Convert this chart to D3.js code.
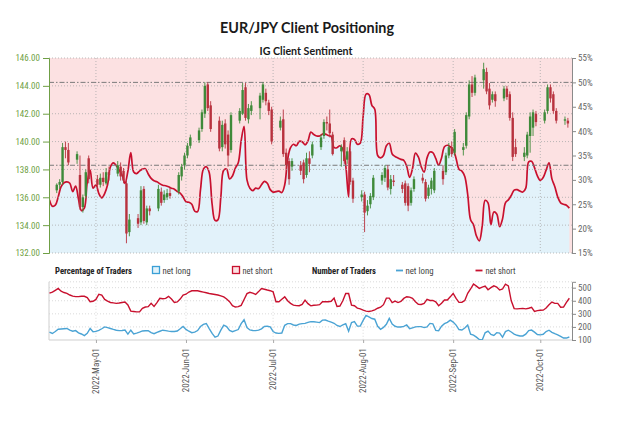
<!DOCTYPE html>
<html><head><meta charset="utf-8">
<script src="https://cdn.jsdelivr.net/npm/d3@7"></script>
<style>
body{margin:0;background:#fff}
svg{display:block}
</style>
</head><body>
<svg id="c" width="636" height="422"></svg>
<script>
// ---------- DATA ----------
const tradeDates = [
"2022-04-18","2022-04-19","2022-04-20","2022-04-21","2022-04-22","2022-04-25","2022-04-26","2022-04-27","2022-04-28","2022-04-29",
"2022-05-02","2022-05-03","2022-05-04","2022-05-05","2022-05-06","2022-05-09","2022-05-10","2022-05-11","2022-05-12","2022-05-13",
"2022-05-16","2022-05-17","2022-05-18","2022-05-19","2022-05-20","2022-05-23","2022-05-24","2022-05-25","2022-05-26","2022-05-27",
"2022-05-30","2022-05-31","2022-06-01","2022-06-02","2022-06-03","2022-06-06","2022-06-07","2022-06-08","2022-06-09","2022-06-10",
"2022-06-13","2022-06-14","2022-06-15","2022-06-16","2022-06-17","2022-06-20","2022-06-21","2022-06-22","2022-06-23","2022-06-24",
"2022-06-27","2022-06-28","2022-06-29","2022-06-30","2022-07-01","2022-07-04","2022-07-05","2022-07-06","2022-07-07","2022-07-08",
"2022-07-11","2022-07-12","2022-07-13","2022-07-14","2022-07-15","2022-07-18","2022-07-19","2022-07-20","2022-07-21","2022-07-22",
"2022-07-25","2022-07-26","2022-07-27","2022-07-28","2022-07-29","2022-08-01","2022-08-02","2022-08-03","2022-08-04","2022-08-05",
"2022-08-08","2022-08-09","2022-08-10","2022-08-11","2022-08-12","2022-08-15","2022-08-16","2022-08-17","2022-08-18","2022-08-19",
"2022-08-22","2022-08-23","2022-08-24","2022-08-25","2022-08-26","2022-08-29","2022-08-30","2022-08-31","2022-09-01","2022-09-02",
"2022-09-05","2022-09-06","2022-09-07","2022-09-08","2022-09-09","2022-09-12","2022-09-13","2022-09-14","2022-09-15","2022-09-16",
"2022-09-19","2022-09-20","2022-09-21","2022-09-22","2022-09-23","2022-09-26","2022-09-27","2022-09-28","2022-09-29","2022-09-30",
"2022-10-03","2022-10-04","2022-10-05","2022-10-06","2022-10-07","2022-10-10","2022-10-11"];

const open = [136.5,136.9,137.1,139.6,139.4,138.7,137.6,135.3,136.1,138.8,
137.3,136.9,137.4,137.0,137.8,137.7,138.2,137.9,137.0,133.5,
134.5,134.2,136.6,134.2,135.2,135.2,136.4,135.8,136.0,136.3,
136.4,137.5,138.3,139.0,139.7,140.1,140.9,142.0,144.1,142.6,
141.5,139.6,141.3,140.5,139.4,141.5,142.0,143.9,141.6,142.2,
142.4,143.0,143.5,142.8,142.3,141.0,141.6,139.2,138.6,138.2,
138.3,138.5,137.6,138.8,139.0,139.6,140.4,141.4,141.3,140.5,
139.3,140.1,138.7,139.3,137.2,136.0,136.2,135.0,135.5,136.0,
137.2,137.4,138.0,136.6,137.2,136.9,137.0,136.8,135.6,136.6,
137.4,137.1,136.1,136.6,136.5,137.9,137.8,139.0,139.6,139.2,
139.4,139.7,141.8,144.1,143.5,144.4,145.0,143.8,143.0,143.4,
143.1,143.8,143.4,141.7,139.6,138.9,139.0,140.4,141.0,142.0,
141.5,142.2,143.9,143.4,142.2,141.5,141.5];
const high = [137.0,137.3,139.9,140.0,139.9,139.3,139.0,136.2,138.0,139.0,
137.6,137.7,137.8,138.1,138.2,138.6,138.5,138.1,137.2,134.8,
134.8,136.8,136.8,135.4,135.4,136.9,136.7,136.5,136.6,136.7,
137.8,138.4,139.2,139.9,140.5,141.0,142.3,144.25,144.25,142.9,
141.8,141.5,141.6,140.8,142.1,142.4,144.2,144.2,142.7,142.9,
143.5,144.25,143.8,143.0,142.5,141.8,142.3,139.5,138.8,138.8,
138.6,138.7,139.2,139.3,140.0,140.5,141.6,141.8,142.3,140.7,
139.8,140.3,139.6,139.5,137.4,136.5,136.4,135.8,136.3,137.6,
137.8,138.3,138.3,137.6,137.6,137.1,137.2,137.0,136.7,137.5,
137.7,137.3,136.9,137.4,138.1,138.3,139.2,139.9,140.0,140.9,
139.9,142.1,144.4,144.7,144.8,145.66,145.3,144.2,143.6,143.6,
144.0,144.0,143.6,142.1,140.2,139.6,140.7,142.1,142.3,142.2,
142.3,144.1,144.1,143.6,142.4,141.8,141.7];
const low = [136.3,136.6,136.9,138.8,138.3,138.4,135.1,134.9,135.9,137.0,
136.6,136.7,136.8,136.9,137.2,137.5,137.2,137.0,132.7,133.2,
133.8,134.0,134.1,134.0,134.7,135.0,135.4,135.6,135.8,135.9,
136.2,137.2,138.0,138.8,139.5,139.9,140.7,141.7,142.2,140.7,
139.3,139.3,139.5,138.2,139.2,141.3,141.9,141.5,141.3,141.9,
141.6,142.8,142.6,141.9,139.8,140.8,138.9,138.0,136.9,137.9,
137.6,137.0,137.4,137.8,138.8,139.4,140.2,140.8,140.3,139.0,
138.2,138.4,138.4,136.9,135.6,135.7,133.5,134.7,135.2,135.8,
136.9,137.1,136.5,136.2,136.8,136.3,135.4,135.0,135.4,136.4,
137.0,135.7,135.9,136.2,136.3,136.9,137.6,138.8,138.9,139.0,
139.0,139.5,141.6,143.2,143.3,143.8,143.4,142.3,142.8,142.5,
142.9,143.0,141.5,138.6,138.9,138.6,138.8,139.2,140.4,141.1,
141.3,142.0,142.8,142.0,141.3,141.2,141.0];
const close = [136.9,137.1,139.6,139.4,138.5,139.1,135.3,136.0,137.8,137.3,
136.9,137.4,137.1,137.8,137.6,138.3,137.5,137.2,133.4,134.4,
134.1,136.5,134.3,135.2,135.0,136.6,135.6,136.2,136.3,136.1,
137.6,138.2,139.0,139.7,140.3,140.8,142.1,144.0,142.4,140.9,
139.5,141.2,139.8,139.0,141.9,142.2,143.7,141.7,142.4,142.6,
143.3,144.1,142.9,142.2,140.0,141.5,139.1,138.3,137.3,138.6,
137.9,137.3,138.8,138.4,139.8,140.3,141.4,141.3,140.6,139.1,
139.6,138.6,139.3,137.1,135.9,136.2,134.9,135.4,136.1,137.4,
137.6,138.1,136.7,137.3,137.1,136.6,135.6,135.4,136.5,137.3,
137.2,135.9,136.7,137.2,137.9,137.3,139.0,139.6,139.1,140.7,
139.6,141.9,144.1,143.5,144.6,145.2,143.6,142.6,143.4,142.9,
143.8,143.2,141.7,138.9,139.1,139.2,140.5,141.8,142.1,141.4,
142.1,143.9,143.1,142.2,141.5,141.6,141.3];

// sentiment series: one value per calendar day, 2022-04-15 .. 2022-10-11
const sentStart = "2022-04-15", sentEnd = "2022-10-11";
const pctLong = [25.9,24.6,24.8,26.5,28.6,29.4,29.6,29.3,27.6,28.7,26.0,23.7,24.2,29.5,32.0,28.3,
29.0,27.2,26.3,27.2,29.0,32.7,33.5,32.9,32.0,31.0,29.3,31.8,35.6,31.6,31.3,31.8,
32.2,32.3,31.2,30.3,29.8,29.6,29.2,28.9,28.8,28.6,28.3,28.1,27.6,27.3,26.5,25.5,
25.4,25.0,23.6,23.5,28.0,32.2,32.7,31.5,25.0,21.7,21.8,26.5,32.0,32.2,30.2,30.8,
32.4,33.5,38.0,41.0,30.0,28.3,27.8,28.3,28.2,29.0,29.7,29.3,28.0,27.5,27.6,27.7,
27.4,29.0,34.2,36.6,37.3,37.0,37.9,37.8,37.2,38.0,39.8,39.3,39.0,39.0,39.4,39.4,
39.1,38.9,36.6,36.6,37.0,36.3,33.0,26.5,38.4,38.3,37.3,37.5,43.0,47.6,47.5,45.3,
44.5,35.0,34.5,35.0,37.0,37.5,35.3,34.8,34.5,34.2,34.0,32.8,30.5,32.3,35.5,34.7,
32.7,31.6,34.5,35.7,35.6,34.4,33.0,34.5,36.8,37.1,36.8,36.2,34.4,32.2,31.8,30.7,
27.0,21.8,20.8,18.5,17.5,20.5,25.8,25.3,20.8,23.4,23.0,20.4,22.0,25.3,25.9,26.8,
27.9,28.0,27.7,27.5,28.3,33.7,33.8,32.5,30.8,29.9,30.5,32.0,33.5,30.2,28.6,26.5,
25.3,25.0,24.8,24.2];
const longCount = [160,150,165,182,184,186,188,175,167,172,155,146,134,151,188,163,
166,173,186,200,195,188,181,175,172,173,176,145,175,147,153,160,
169,171,171,156,148,159,167,175,172,168,165,165,169,186,204,181,
167,156,160,172,203,219,226,187,150,121,130,175,213,202,173,164,
172,180,225,255,195,177,173,172,175,185,204,205,200,165,153,151,
153,212,225,225,215,211,221,225,227,235,240,240,237,233,252,253,
244,236,228,211,203,215,224,168,233,240,206,206,250,288,277,264,
259,205,182,196,220,265,222,205,199,199,204,215,186,193,200,202,
202,195,200,227,224,174,171,206,225,235,252,237,214,180,176,192,
215,145,137,122,104,100,155,168,143,135,156,153,121,164,175,161,
145,136,131,131,145,172,176,160,142,139,144,165,175,159,148,140,
128,115,115,123];
const shortCount = [458,466,480,494,473,463,456,444,435,432,432,435,434,425,393,396,
410,450,443,410,397,387,384,380,383,387,390,368,321,318,315,315,
342,352,355,380,357,386,419,415,418,434,413,387,391,413,443,450,
467,476,476,476,471,466,461,456,452,448,444,438,429,414,393,363,
352,355,365,410,455,465,458,448,470,494,488,482,477,469,393,393,
412,430,400,380,367,363,362,372,405,378,361,366,367,370,392,393,
393,396,420,356,360,400,455,455,366,362,344,338,328,321,318,323,
331,343,351,370,420,420,386,397,386,395,418,431,428,418,392,373,
372,380,410,402,403,392,362,381,406,406,430,456,418,388,389,402,
457,490,528,512,495,505,512,484,500,514,505,482,490,527,514,400,
340,338,340,342,338,343,350,318,325,327,328,345,370,390,380,380,
351,352,388,419];

const priceTicks = [132,134,136,138,140,142,144,146];
const pctTicks = [15,20,25,30,35,40,45,50,55];
const countTicks = [100,200,300,400,500];
const refPct = [50,33];
const monthTicks = ["2022-05-01","2022-06-01","2022-07-01","2022-08-01","2022-09-01","2022-10-01"];
const titleText = "EUR/JPY Client Positioning";
const subtitleText = "IG Client Sentiment";

// ---------- DRAW ----------
const svg = d3.select("#c");
const parse = d3.timeParse("%Y-%m-%d");
const NARROW = '"Liberation Sans Narrow","Roboto Condensed","Arial Narrow",Roboto,sans-serif';
const L = 49, R = 572, T = 58, B = 253, T2 = 281.8, B2 = 340;

const x = d3.scaleTime().domain([new Date(2022,3,14,20), new Date(2022,9,11,22)]).range([L, R]);
const yP = d3.scaleLinear().domain([132,146]).range([B, T]);
const yS = d3.scaleLinear().domain([15,55]).range([B, T]);
const yN = d3.scaleLinear().domain([100,545]).range([B2, T2]);

const candles = tradeDates.map((s,i)=>({date:d3.timeHour.offset(parse(s),-12), o:open[i], h:high[i], l:low[i], c:close[i]}));
const sentDays = d3.timeDay.range(parse(sentStart), d3.timeDay.offset(parse(sentEnd),1));
const sent = sentDays.map((d,i)=>({date:d, p:pctLong[i], nl:longCount[i], ns:shortCount[i]}));
const months = monthTicks.map(parse);

const defs = svg.append("defs");
defs.append("clipPath").attr("id","clipMain").append("rect").attr("x",L).attr("y",T).attr("width",R-L).attr("height",B-T);
defs.append("clipPath").attr("id","clipLow").append("rect").attr("x",L).attr("y",T2-2).attr("width",R-L).attr("height",B2-T2+2);

// title
svg.append("text").attr("x",307).attr("y",33).attr("text-anchor","middle")
  .attr("font-family","Lato,'Noto Sans',sans-serif").attr("font-weight","bold").attr("font-size",16)
  .attr("fill","#1a1a1a").attr("textLength",174).attr("lengthAdjust","spacingAndGlyphs").text(titleText);
svg.append("text").attr("x",306).attr("y",55).attr("text-anchor","middle")
  .attr("font-family","Lato,'Noto Sans',sans-serif").attr("font-weight","bold").attr("font-size",11.5)
  .attr("fill","#1a1a1a").attr("textLength",93).attr("lengthAdjust","spacingAndGlyphs").text(subtitleText);

// main background
const gm = svg.append("g").attr("clip-path","url(#clipMain)");
gm.append("rect").attr("x",L).attr("y",T).attr("width",R-L).attr("height",B-T).attr("fill","#fce1e2");
gm.append("path").datum(sent).attr("fill","#e2f2fa")
  .attr("d", d3.area().x(d=>x(d.date)).y0(B).y1(d=>yS(d.p)).curve(d3.curveCatmullRom));

// gridlines
const grid = svg.append("g").attr("stroke","#a9a9a9").attr("stroke-width",0.8).attr("stroke-dasharray","1,2").attr("fill","none");
priceTicks.forEach(v=>grid.append("line").attr("x1",L).attr("x2",R).attr("y1",yP(v)).attr("y2",yP(v)));
months.forEach(m=>{
  grid.append("line").attr("x1",x(m)).attr("x2",x(m)).attr("y1",T).attr("y2",B);
});
svg.append("g").selectAll("line").data(refPct).join("line")
  .attr("x1",L).attr("x2",R).attr("y1",d=>yS(d)).attr("y2",d=>yS(d))
  .attr("stroke","#7a7a7a").attr("stroke-width",1).attr("stroke-dasharray","5,2,1.5,2");

// candles
const gc = svg.append("g").attr("clip-path","url(#clipMain)");
const up = "#3f8a3a", dn = "#b8323e";
gc.selectAll("line.w").data(candles).join("line").attr("class","w")
  .attr("x1",d=>x(d.date)).attr("x2",d=>x(d.date)).attr("y1",d=>yP(d.h)).attr("y2",d=>yP(d.l))
  .attr("stroke",d=>d.c>=d.o?up:dn).attr("stroke-width",0.9);
gc.selectAll("rect.b").data(candles).join("rect").attr("class","b")
  .attr("x",d=>x(d.date)-1.2).attr("width",2.4)
  .attr("y",d=>yP(Math.max(d.o,d.c))).attr("height",d=>Math.max(0.8,Math.abs(yP(d.o)-yP(d.c))))
  .attr("fill",d=>d.c>=d.o?up:dn);

// sentiment line
gm.append("path").datum(sent).attr("fill","none").attr("stroke","#c8102e").attr("stroke-width",1.7)
  .attr("d", d3.line().x(d=>x(d.date)).y(d=>yS(d.p)).curve(d3.curveCatmullRom));

// main axes
const ax = svg.append("g").attr("transform",`translate(${L},0)`)
  .call(d3.axisLeft(yP).tickValues(priceTicks).tickFormat(d3.format(".2f")).tickSize(6).tickPadding(3));
ax.select(".domain").attr("stroke","#6f9f45");
ax.selectAll(".tick line").attr("stroke","#6f9f45");
ax.selectAll(".tick text").attr("fill","#6f9f45").attr("font-family",NARROW).attr("font-size",9);

const ar = svg.append("g").attr("transform",`translate(${R},0)`)
  .call(d3.axisRight(yS).tickValues(pctTicks).tickFormat(d=>d+"%").tickSize(4).tickPadding(2));
ar.select(".domain").attr("stroke","#8a8a8a");
ar.selectAll(".tick line").attr("stroke","#8a8a8a");
ar.selectAll(".tick text").attr("fill","#666").attr("font-family",NARROW).attr("font-size",9);

// legend row
const lg = svg.append("g").attr("font-family",NARROW).attr("font-size",9.5);
lg.append("text").attr("x",55).attr("y",274).attr("font-weight","bold").attr("fill","#222")
  .attr("textLength",77).attr("lengthAdjust","spacingAndGlyphs").text("Percentage of Traders");
lg.append("rect").attr("x",152.5).attr("y",266.5).attr("width",7).attr("height",7).attr("fill","#e2f2fa").attr("stroke","#3a9fd6").attr("stroke-width",1.3);
lg.append("text").attr("x",162.5).attr("y",274).attr("fill","#444").attr("textLength",28).attr("lengthAdjust","spacingAndGlyphs").text("net long");
lg.append("rect").attr("x",232.5).attr("y",266.5).attr("width",7).attr("height",7).attr("fill","#fce1e2").attr("stroke","#c8102e").attr("stroke-width",1.3);
lg.append("text").attr("x",242.5).attr("y",274).attr("fill","#444").attr("textLength",30).attr("lengthAdjust","spacingAndGlyphs").text("net short");
lg.append("text").attr("x",312).attr("y",274).attr("font-weight","bold").attr("fill","#222")
  .attr("textLength",64).attr("lengthAdjust","spacingAndGlyphs").text("Number of Traders");
lg.append("line").attr("x1",396).attr("x2",403).attr("y1",270.5).attr("y2",270.5).attr("stroke","#4aa3d4").attr("stroke-width",1.8);
lg.append("text").attr("x",405.5).attr("y",274).attr("fill","#444").attr("textLength",28).attr("lengthAdjust","spacingAndGlyphs").text("net long");
lg.append("line").attr("x1",475.5).attr("x2",482.5).attr("y1",270.5).attr("y2",270.5).attr("stroke","#c8102e").attr("stroke-width",1.8);
lg.append("text").attr("x",485.5).attr("y",274).attr("fill","#444").attr("textLength",30).attr("lengthAdjust","spacingAndGlyphs").text("net short");

// lower panel
const g2 = svg.append("g");
g2.append("rect").attr("x",L).attr("y",T2).attr("width",R-L).attr("height",B2-T2).attr("fill","#fff");
const grid2 = g2.append("g").attr("stroke","#d0d0d0").attr("stroke-width",0.8).attr("stroke-dasharray","1,2");
[T2].concat(countTicks.filter(v=>v>100).map(v=>yN(v))).forEach(yy=>grid2.append("line").attr("x1",L).attr("x2",R).attr("y1",yy).attr("y2",yy));
months.forEach(m=>grid2.append("line").attr("x1",x(m)).attr("x2",x(m)).attr("y1",T2).attr("y2",B2));
g2.append("line").attr("x1",L).attr("x2",L).attr("y1",T2).attr("y2",B2).attr("stroke","#cfcfcf");
g2.append("line").attr("x1",L).attr("x2",R).attr("y1",B2).attr("y2",B2).attr("stroke","#cfcfcf");

const gl = g2.append("g").attr("clip-path","url(#clipLow)");
gl.append("path").datum(sent).attr("fill","none").attr("stroke","#c8102e").attr("stroke-width",1.4)
  .attr("d", d3.line().x(d=>x(d.date)).y(d=>yN(d.ns)));
gl.append("path").datum(sent).attr("fill","none").attr("stroke","#4aa3d4").attr("stroke-width",1.4)
  .attr("d", d3.line().x(d=>x(d.date)).y(d=>yN(d.nl)));

const ar2 = svg.append("g").attr("transform",`translate(${R},0)`)
  .call(d3.axisRight(yN).tickValues(countTicks).tickSize(4).tickPadding(2));
ar2.select(".domain").attr("stroke","#8a8a8a");
ar2.selectAll(".tick line").attr("stroke","#8a8a8a");
ar2.selectAll(".tick text").attr("fill","#666").attr("font-family",NARROW).attr("font-size",9);

const axb = svg.append("g").attr("transform",`translate(0,${B2})`)
  .call(d3.axisBottom(x).tickValues(months).tickSize(3).tickFormat(""));
axb.select(".domain").remove();
axb.selectAll(".tick line").attr("stroke","#aaa");

const fmt = d3.timeFormat("%Y-%b-%d");
svg.append("g").selectAll("text").data(months).join("text")
  .attr("transform",d=>`translate(${x(d)},348) rotate(-90)`)
  .attr("text-anchor","end").attr("dy","0.35em")
  .attr("font-family",NARROW).attr("font-size",9).attr("fill","#555").text(d=>fmt(d));
</script>
</body></html>
